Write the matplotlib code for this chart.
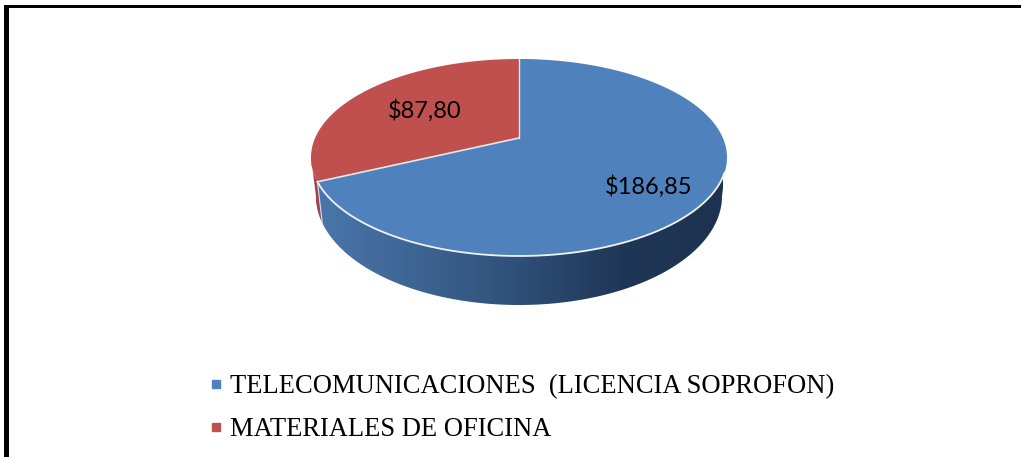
import matplotlib
matplotlib.use('Agg')
import matplotlib.pyplot as plt
import numpy as np
from matplotlib.colors import LinearSegmentedColormap
from matplotlib.lines import Line2D
from matplotlib.patches import Polygon, Rectangle

categories = ['TELECOMUNICACIONES  (LICENCIA SOPROFON)', 'MATERIALES DE OFICINA']
values = [186.85, 87.80]
value_labels = ['$186,85', '$87,80']
colors = ['#4F81BD', '#C0504D']

WIDTH, HEIGHT = 1021, 457

# pie geometry in pixels, the top face is drawn with some perspective
CX, CY, RX, RY = 519, 157.5, 208, 98.5
BX, BCY, BRX, BRY = 519, 196, 203, 109
TILT = 0.198


def rim(angles, cx, cy, rx, ry):
    # angles clockwise from 12 o'clock, degrees
    a = np.radians(angles)
    u, v = np.sin(a), np.cos(a)
    d = 1 + TILT * v
    return cx + rx * np.sqrt(1 - TILT ** 2) * u / d, cy - ry * (v + TILT) / d


def flat_rim(angles, cx, cy, rx, ry):
    a = np.radians(angles)
    return cx + rx * np.sin(a), cy - ry * np.cos(a)


fig = plt.figure(figsize=(WIDTH / 100, HEIGHT / 100), dpi=100)
ax = fig.add_axes([0, 0, 1, 1])

# frame of the page, only left and top
ax.add_patch(Rectangle((4, 5), 5, HEIGHT, color='black', lw=0))
ax.add_patch(Rectangle((4, 5), WIDTH, 3, color='black', lw=0))

share = np.array(values) / sum(values)
blue_end = 360 * share[0]
edge_x, edge_y = rim(np.array([blue_end]), CX, CY, RX, RY)
edge_x, edge_y = edge_x[0], edge_y[0]

# side of the pie
t = np.linspace(90, 270, 300)
tx, ty = flat_rim(t, CX, CY, RX, RY)
bx, by = flat_rim(t, BX, BCY, BRX, BRY)
side = np.column_stack([np.r_[tx, bx[::-1]], np.r_[ty, by[::-1]]])

blue_side = LinearSegmentedColormap.from_list(
    'blue_side', ['#4A76AB', '#3D6493', '#2F4F78', '#1F3757', '#1C324F'])
red_side = LinearSegmentedColormap.from_list('red_side', ['#8E3A38', '#B0494A'])

grad = np.linspace(0, 1, 256).reshape(1, -1)
side_patch = Polygon(side, closed=True, fc='none', ec='none')
ax.add_patch(side_patch)
im = ax.imshow(grad, cmap=blue_side, extent=(316, 722, 310, 150), aspect='auto', zorder=1)
im.set_clip_path(side_patch)

# small part of the red slice that shows on the side
seam = np.degrees(np.arcsin((CX - edge_x) / RX))
top_arc = np.linspace(270, 180 + seam, 40)
low_arc = np.linspace(180 + seam, 270, 40)
ax_top, ay_top = flat_rim(top_arc, CX, CY, RX, RY)
ax_low, ay_low = flat_rim(low_arc, BX, BCY, BRX, BRY)
low_x, low_y = ax_low[0], ay_low[0]
red_pts = np.column_stack([np.r_[ax_top, ax_low], np.r_[ay_top, ay_low]])
red_patch = Polygon(red_pts, closed=True, fc='none', ec='none')
ax.add_patch(red_patch)
im2 = ax.imshow(grad, cmap=red_side, extent=(308, 324, 310, 150), aspect='auto', zorder=2)
im2.set_clip_path(red_patch)

ax.plot([edge_x, low_x], [edge_y, low_y], color='#D9E2EE', lw=0.8, zorder=3)

# top face
apex = (CX, CY - RY * TILT)
start = 0
for value, color in zip(share, colors):
    angles = np.linspace(start, start + 360 * value, 300)
    x, y = rim(angles, CX, CY, RX, RY)
    pts = np.column_stack([np.r_[apex[0], x], np.r_[apex[1], y]])
    ax.add_patch(Polygon(pts, closed=True, fc=color, ec='none', zorder=4))
    start += 360 * value

# light edges, the far side of the rim has none
front = np.linspace(blue_end, 110, 200)
fx, fy = rim(front, CX, CY, RX, RY)
ax.plot(fx, fy, color='#F2F2F2', lw=1.3, zorder=5)
ax.plot([apex[0], edge_x], [apex[1], edge_y], color='#E8E8E8', lw=1.2, zorder=5)
ax.plot([apex[0], apex[0]], [apex[1], 59], color='#E8E8E8', lw=1.0, zorder=5)

ax.text(649, 187, value_labels[0], fontsize=17, family='Lato', ha='center', va='center', zorder=6, color='black')
ax.text(424.5, 111, value_labels[1], fontsize=17, family='Lato', ha='center', va='center', zorder=6, color='black')

handles = [Line2D([], [], ls='none', marker='s', ms=5.5, mfc=c, mec=c) for c in colors]
ax.legend(handles, categories, loc='upper left', bbox_to_anchor=(203 / WIDTH, 1 - 374 / HEIGHT),
          frameon=False, prop={'family': 'Liberation Serif', 'size': 19.1},
          handlelength=1.0, handletextpad=0.0, labelspacing=0.69, borderpad=0, borderaxespad=0)

ax.set_xlim(0, WIDTH)
ax.set_ylim(HEIGHT, 0)
ax.axis('off')

fig.savefig('out.png', dpi=100)
